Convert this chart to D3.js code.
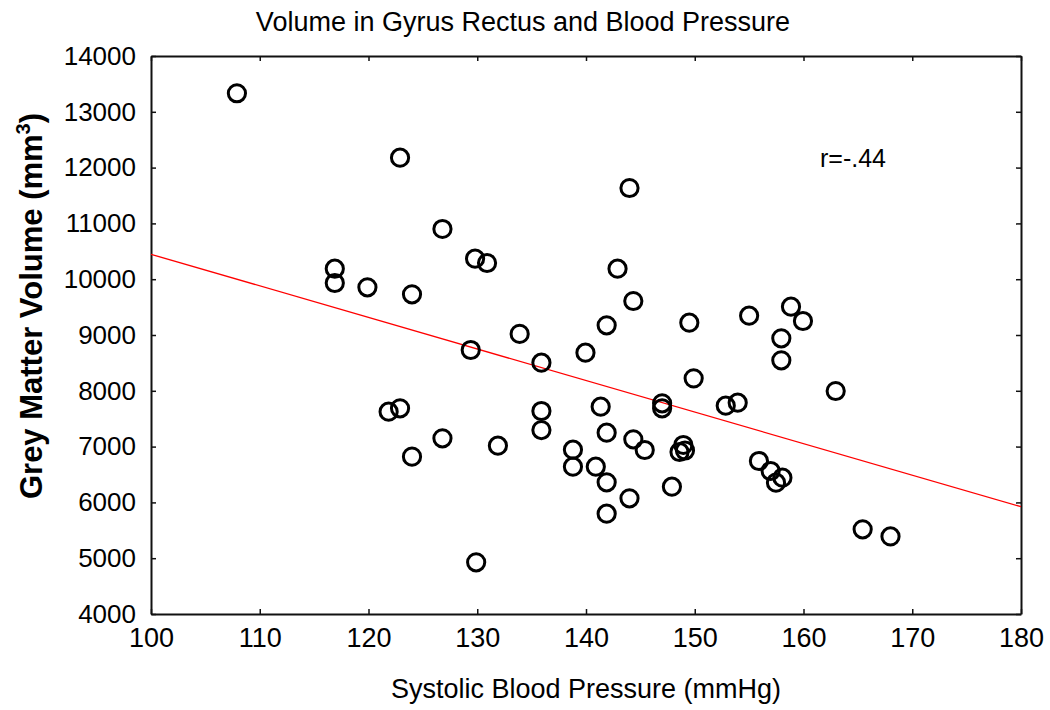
<!DOCTYPE html>
<html>
<head>
<meta charset="utf-8">
<script src="https://cdn.jsdelivr.net/npm/d3@7"></script>
<style>
  html, body { margin: 0; padding: 0; background: #fff; }
  svg { display: block; font-family: Arial, "Liberation Sans", sans-serif; }
</style>
</head>
<body>
<svg id="chart" width="1050" height="710"></svg>
<script>
// ---- data ----
const systolicBP = [
  107.9, 122.9, 144.0, 126.8, 116.9, 116.9, 119.9, 124.0, 129.8, 130.9,
  142.9, 144.35, 141.9, 133.9, 129.4, 135.9, 139.95, 149.5, 155.0, 158.85,
  159.95, 157.96, 157.96, 149.9, 162.96, 147.0, 147.0, 152.85, 153.95, 141.35,
  135.9, 135.9, 121.85, 122.9, 126.8, 131.9, 124.0, 141.9, 144.35, 145.4,
  138.8, 138.8, 140.9, 141.9, 141.9, 144.0, 147.9, 148.95, 148.6, 149.1,
  155.9, 156.98, 158.06, 157.47, 165.44, 168.0, 129.9
];
const greyMatterVolume = [
  13332, 12177, 11634, 10900, 10188, 9932, 9855, 9729, 10368, 10290,
  10188, 9609, 9173, 9020, 8731, 8504, 8683, 9221, 9346, 9507,
  9251, 8940, 8546, 8223, 7996, 7776, 7686, 7733, 7787, 7716,
  7638, 7297, 7626, 7686, 7148, 7017, 6820, 7249, 7131, 6939,
  6945, 6640, 6640, 6360, 5798, 6073, 6282, 7029, 6903, 6930,
  6742, 6563, 6443, 6353, 5518, 5390, 4926
];
const fitX = [100, 180];
const fitY = [10446, 5923];
const xTicks = [100, 110, 120, 130, 140, 150, 160, 170, 180];
const yTicks = [4000, 5000, 6000, 7000, 8000, 9000, 10000, 11000, 12000, 13000, 14000];
const titleText = "Volume in Gyrus Rectus and Blood Pressure";
const xLabel = "Systolic Blood Pressure (mmHg)";
const yLabel = "Grey Matter Volume (mm";
const rText = "r=-.44";

// ---- layout ----
const svg = d3.select("#chart");
const L = 151, R = 1021, T = 56, B = 614;
const x = d3.scaleLinear().domain([100, 180]).range([L, R]);
const y = d3.scaleLinear().domain([4000, 14000]).range([B, T]);

// axes with inward ticks
const tickLen = 5;
const fmt = d3.format("d");
const gB = svg.append("g").attr("transform", `translate(0,${B})`)
  .call(d3.axisBottom(x).tickValues(xTicks).tickFormat(fmt).tickSizeInner(-tickLen).tickSizeOuter(0).tickPadding(14));
const gT = svg.append("g").attr("transform", `translate(0,${T})`)
  .call(d3.axisTop(x).tickValues(xTicks).tickSizeInner(-tickLen).tickSizeOuter(0).tickFormat(""));
const gL = svg.append("g").attr("transform", `translate(${L},0)`)
  .call(d3.axisLeft(y).tickValues(yTicks).tickFormat(fmt).tickSizeInner(-tickLen).tickSizeOuter(0).tickPadding(15));
const gR = svg.append("g").attr("transform", `translate(${R},0)`)
  .call(d3.axisRight(y).tickValues(yTicks).tickSizeInner(-tickLen).tickSizeOuter(0).tickFormat(""));

[gB, gT, gL, gR].forEach(g => {
  g.select(".domain").attr("stroke", "#111").attr("stroke-width", 2);
  g.selectAll(".tick line").attr("stroke", "#111").attr("stroke-width", 1.5);
  g.selectAll(".tick text").attr("fill", "#000")
    .style("font-family", "Arial, 'Liberation Sans', sans-serif");
});
gB.selectAll(".tick text").style("font-size", "27px");
gL.selectAll(".tick text").style("font-size", "26px");

// regression line
svg.append("clipPath").attr("id", "plotclip")
  .append("rect").attr("x", L).attr("y", T).attr("width", R - L).attr("height", B - T);
svg.append("line")
  .attr("x1", x(fitX[0])).attr("y1", y(fitY[0]))
  .attr("x2", x(fitX[1])).attr("y2", y(fitY[1]))
  .attr("stroke", "#ff0000").attr("stroke-width", 1.3)
  .attr("clip-path", "url(#plotclip)");

// points
const pts = systolicBP.map((v, i) => ({ bp: v, vol: greyMatterVolume[i] }));
svg.append("g").selectAll("circle").data(pts).join("circle")
  .attr("cx", d => x(d.bp)).attr("cy", d => y(d.vol))
  .attr("r", 8.6)
  .attr("fill", "none")
  .attr("stroke", "#000")
  .attr("stroke-width", 3);

// texts
svg.append("text").attr("x", 523).attr("y", 31)
  .attr("text-anchor", "middle").style("font-size", "27px").attr("fill", "#000")
  .text(titleText);

svg.append("text").attr("x", 586).attr("y", 698)
  .attr("text-anchor", "middle").style("font-size", "27px").attr("fill", "#000")
  .text(xLabel);

const yl = svg.append("text")
  .attr("transform", "translate(42,306) rotate(-90)")
  .attr("text-anchor", "middle")
  .style("font-size", "31px").style("font-weight", "bold").attr("fill", "#000");
yl.append("tspan").text(yLabel);
yl.append("tspan").attr("dy", -12).style("font-size", "20px").text("3");
yl.append("tspan").attr("dy", 12).text(")");

svg.append("text").attr("x", 820).attr("y", 167)
  .style("font-size", "25px").attr("fill", "#000")
  .text(rText);
</script>
</body>
</html>
